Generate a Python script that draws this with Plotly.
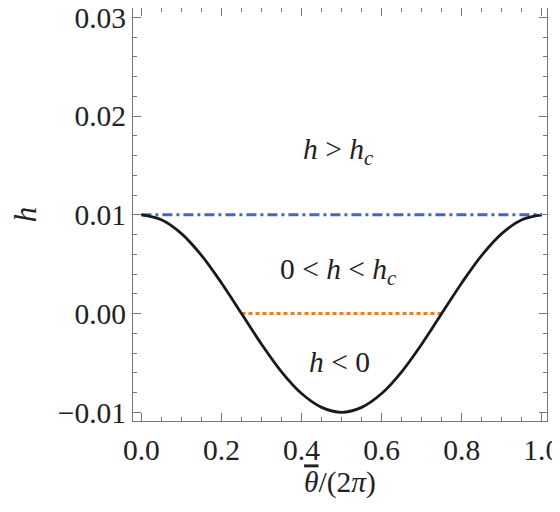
import plotly.graph_objects as go

# curve
theta = [0.0, 0.05, 0.1, 0.15, 0.2, 0.25, 0.3, 0.35, 0.4, 0.45, 0.5,
         0.55, 0.6, 0.65, 0.7, 0.75, 0.8, 0.85, 0.9, 0.95, 1.0]
h = [0.0100, 0.0095, 0.0081, 0.0059, 0.0031, 0.0000, -0.0031, -0.0059, -0.0081, -0.0095, -0.0100,
     -0.0095, -0.0081, -0.0059, -0.0031, 0.0000, 0.0031, 0.0059, 0.0081, 0.0095, 0.0100]

hc_x = [0.0, 1.0]
hc_y = [0.01, 0.01]
zero_x = [0.25, 0.75]
zero_y = [0.0, 0.0]

regions = ["<i>h</i> > <i>h<sub>c</sub></i>", "0 < <i>h</i> < <i>h<sub>c</sub></i>", "<i>h</i> < 0"]
region_x = [0.49, 0.49, 0.495]
region_y = [0.0165, 0.0043, -0.0049]

font = "Liberation Serif"
ink = "#222"

fig = go.Figure()
fig.add_trace(go.Scatter(x=hc_x, y=hc_y, mode="lines",
                         line=dict(color="#3b6cc0", width=3, dash="10px,4px,3px,4px")))
fig.add_trace(go.Scatter(x=zero_x, y=zero_y, mode="lines",
                         line=dict(color="#f47a20", width=3, dash="4px,3px")))
fig.add_trace(go.Scatter(x=theta, y=h, mode="lines", line_shape="spline",
                         line=dict(color="#1a1a1a", width=2.8)))

for txt, xx, yy in zip(regions, region_x, region_y):
    fig.add_annotation(x=xx, y=yy, text=txt, showarrow=False,
                       font=dict(family=font, size=29.5, color=ink))

axis_common = dict(showgrid=False, zeroline=False, showline=True, linecolor="#777",
                   linewidth=1, mirror="allticks", ticks="inside", tickcolor="#777",
                   ticklen=8, automargin=False, ticklabeloverflow="allow",
                   tickfont=dict(family=font, size=29.5, color=ink))

fig.update_xaxes(range=[-0.021, 1.013], tickvals=[0, 0.2, 0.4, 0.6, 0.8, 1.0],
                 ticktext=["0.0", "0.2", "0.4", "0.6", "0.8", "1.0"],
                 ticklabelstandoff=3,
                 minor=dict(dtick=0.05, tick0=0, ticks="inside", ticklen=4, tickcolor="#777"),
                 title=dict(text="<span style='text-decoration:overline'><i>θ</i></span>/(2<i>π</i>)",
                            font=dict(family=font, size=29.5, color=ink), standoff=4),
                 **axis_common)
fig.update_yaxes(range=[-0.01088, 0.03095], tickvals=[-0.01, 0.0, 0.01, 0.02, 0.03],
                 ticktext=["−0.01", "0.00", "0.01", "0.02", "0.03"],
                 minor=dict(dtick=0.002, tick0=0, ticks="inside", ticklen=4, tickcolor="#777"),
                 title=dict(text="<i>h</i>", font=dict(family=font, size=31, color=ink),
                            standoff=24),
                 **axis_common)

# the page adds an 8px body margin, so the figure is a little smaller
fig.update_layout(width=552, height=504, showlegend=False,
                  plot_bgcolor="white", paper_bgcolor="white",
                  margin=dict(l=125, r=13, t=0, b=91))

fig.write_html("out.html")
